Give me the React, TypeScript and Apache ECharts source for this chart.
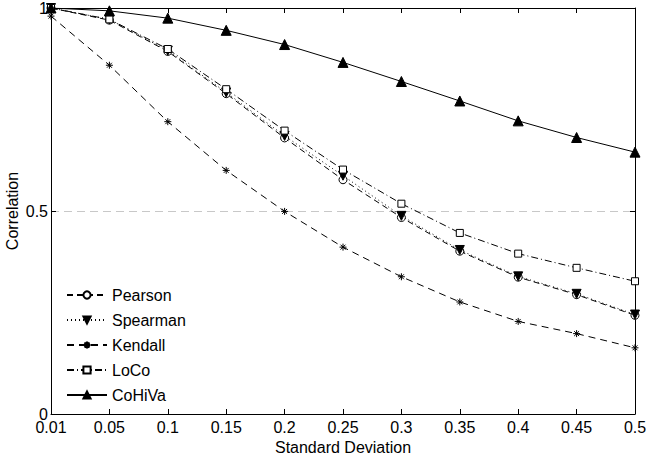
import React, { useEffect, useRef } from "react";
import * as echarts from "echarts";

const categories = ["0.01", "0.05", "0.1", "0.15", "0.2", "0.25", "0.3", "0.35", "0.4", "0.45", "0.5"];
const pearson = [1.0, 0.97, 0.893, 0.789, 0.68, 0.577, 0.484, 0.401, 0.337, 0.294, 0.243];
const spearman = [1.0, 0.972, 0.895, 0.792, 0.685, 0.587, 0.488, 0.404, 0.339, 0.296, 0.245];
const kendall = [0.98, 0.859, 0.72, 0.6, 0.499, 0.411, 0.338, 0.276, 0.228, 0.198, 0.163];
const loco = [1.0, 0.972, 0.899, 0.8, 0.698, 0.602, 0.518, 0.446, 0.395, 0.36, 0.327];
const cohiva = [1.0, 0.993, 0.975, 0.945, 0.91, 0.866, 0.819, 0.771, 0.722, 0.681, 0.645];
const yTicks = [0, 0.5, 1];

const FONT = "Liberation Sans";
const FS = 16;
const STAR = "path://M5,0L5,10M0,5L10,5M1.5,1.5L8.5,8.5M1.5,8.5L8.5,1.5";

export default function App() {
  const ref = useRef<HTMLDivElement>(null);
  useEffect(() => {
    if (!ref.current) return;
    const chart = echarts.init(ref.current, null, { renderer: "svg" });
    const axisLine = { show: true, onZero: false, lineStyle: { color: "#000", width: 1 } };
    const tick = { show: true, inside: true, length: 5, lineStyle: { color: "#000" } };
    const mk = (name: string, data: number[], lineType: any, symbol: string, size: number, fill: string, extra: any = {}) => ({
      name,
      type: "line",
      data,
      symbol,
      symbolSize: size,
      showSymbol: true,
      lineStyle: { color: "#000", width: 1, type: lineType },
      itemStyle: { color: fill, borderColor: "#000", borderWidth: 1 },
      emphasis: { disabled: true },
      ...extra,
    });
    chart.setOption({
      animation: false,
      backgroundColor: "#fff",
      textStyle: { fontFamily: FONT },
      grid: { left: 51, right: 11, top: 8, bottom: 43, containLabel: false, outerBoundsMode: "none" },
      legend: {
        orient: "vertical",
        left: 66,
        top: 287,
        padding: 0,
        itemWidth: 40,
        itemHeight: 9,
        itemGap: 9,
        textStyle: { fontFamily: FONT, fontSize: FS, color: "#000" },
        data: ["Pearson", "Spearman", "Kendall", "LoCo", "CoHiVa"],
      },
      xAxis: [
        {
          type: "category",
          data: categories,
          boundaryGap: false,
          axisLine,
          axisTick: { ...tick, alignWithLabel: true },
          axisLabel: { color: "#000", fontSize: FS, fontFamily: FONT, margin: 8, lineHeight: 10 },
          name: "Standard Deviation",
          nameLocation: "middle",
          nameGap: 25,
          nameMoveOverlap: false,
          nameTextStyle: { color: "#000", fontSize: FS, fontFamily: FONT },
          splitLine: { show: false },
        },
        {
          type: "category",
          data: categories,
          boundaryGap: false,
          position: "top",
          axisLine,
          axisTick: tick,
          axisLabel: { show: false },
          splitLine: { show: false },
        },
      ],
      yAxis: [
        {
          type: "value",
          min: 0,
          max: 1,
          interval: 0.5,
          axisLine,
          axisTick: tick,
          axisLabel: {
            color: "#000",
            fontSize: FS,
            fontFamily: FONT,
            margin: 3,
            lineHeight: 10,
            formatter: (v: number) => (yTicks.includes(v) ? String(v) : ""),
          },
          name: "Correlation",
          nameLocation: "middle",
          nameGap: 31,
          nameMoveOverlap: false,
          nameTextStyle: { color: "#000", fontSize: FS, fontFamily: FONT },
          splitLine: { show: true, lineStyle: { color: "#c8c8c8", type: [8, 5], width: 1 } },
        },
        {
          type: "value",
          min: 0,
          max: 1,
          interval: 0.5,
          position: "right",
          axisLine,
          axisTick: tick,
          axisLabel: { show: false },
          splitLine: { show: false },
        },
      ],
      series: [
        mk("Pearson", pearson, [6, 4], "circle", 8, "#fff"),
        mk("Spearman", spearman, [1, 3], "triangle", 9, "#000", { symbolRotate: 180 }),
        mk("Kendall", kendall, [7, 5], STAR, 7, "none"),
        mk("LoCo", loco, [7, 3, 1, 3], "rect", 7, "#fff"),
        mk("CoHiVa", cohiva, "solid", "triangle", 10, "#000"),
      ],
    });
    return () => chart.dispose();
  }, []);
  return <div ref={ref} style={{ width: 646, height: 457, position: "absolute", left: 0, top: 0 }} />;
}
